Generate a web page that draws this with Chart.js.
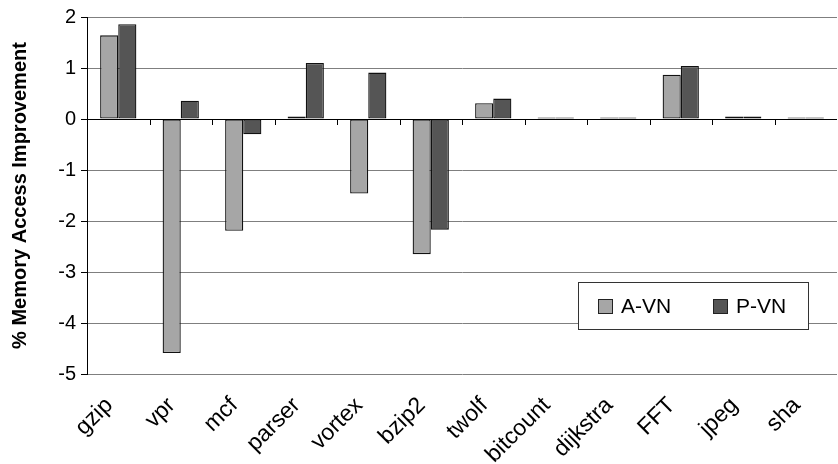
<!DOCTYPE html>
<html>
<head>
<meta charset="utf-8">
<script src="https://cdn.jsdelivr.net/npm/chart.js@4/dist/chart.umd.min.js"></script>
<style>
  html, body { margin: 0; padding: 0; background: #fff; }
  #wrap { width: 838px; height: 464px; }
</style>
</head>
<body>
<div id="wrap"><canvas id="memChart" width="838" height="464"></canvas></div>
<script>
// benchmarks along the x axis
const benchmarks = ["gzip", "vpr", "mcf", "parser", "vortex", "bzip2", "twolf", "bitcount", "dijkstra", "FFT", "jpeg", "sha"];
// % memory access improvement
const aVN = [1.64, -4.59, -2.19, 0.05, -1.46, -2.65, 0.31, 0.03, 0.03, 0.87, 0.05, 0.03];
const pVN = [1.86, 0.36, -0.30, 1.10, 0.91, -2.17, 0.40, 0.03, 0.03, 1.04, 0.05, 0.03];
const yMin = -5, yMax = 2, yStep = 1;

const FONT = "Arial, 'Liberation Sans', sans-serif";

// little tick marks hanging below the zero line, between categories
const zeroTicks = {
  id: "zeroTicks",
  afterDatasetsDraw(chart) {
    const ctx = chart.ctx;
    const x = chart.scales.x, y = chart.scales.y;
    const y0 = y.getPixelForValue(0);
    ctx.save();
    ctx.strokeStyle = "#000";
    ctx.lineWidth = 1;
    ctx.beginPath();
    ctx.moveTo(chart.chartArea.left, y0 + 0.5);
    ctx.lineTo(chart.chartArea.right, y0 + 0.5);
    for (let i = 1; i < benchmarks.length; i++) {
      const bx = Math.round((x.getPixelForValue(i - 1) + x.getPixelForValue(i)) / 2) + 0.5;
      ctx.moveTo(bx, y0);
      ctx.lineTo(bx, y0 + 6);
    }
    ctx.stroke();
    ctx.restore();
  }
};

// boxed legend inside the plot, lower right
const boxLegend = {
  id: "boxLegend",
  afterDraw(chart) {
    const ctx = chart.ctx;
    const bx = 578, by = 282, bw = 230, bh = 47;
    ctx.save();
    ctx.fillStyle = "#fff";
    ctx.fillRect(bx, by, bw, bh);
    ctx.strokeStyle = "#333";
    ctx.lineWidth = 1;
    ctx.strokeRect(bx + 0.5, by + 0.5, bw, bh);
    ctx.font = "21px " + FONT;
    ctx.textBaseline = "middle";
    const items = [[598, 0], [713, 1]];
    items.forEach(([sx, di]) => {
      const ds = chart.data.datasets[di];
      ctx.fillStyle = ds.backgroundColor;
      ctx.fillRect(sx, 299, 14, 14);
      ctx.strokeStyle = "#222";
      ctx.strokeRect(sx + 0.5, 299.5, 14, 14);
      ctx.fillStyle = "#000";
      ctx.fillText(ds.label, sx + 23, 307);
    });
    ctx.restore();
  }
};

new Chart(document.querySelector("#memChart"), {
  type: "bar",
  data: {
    labels: benchmarks,
    datasets: [
      {
        label: "A-VN",
        data: aVN,
        backgroundColor: "#a6a6a6",
        borderColor: "#111",
        borderWidth: 1.3,
        borderSkipped: false,
      },
      {
        label: "P-VN",
        data: pVN,
        backgroundColor: "#555555",
        borderColor: "#111",
        borderWidth: 1.3,
        borderSkipped: false,
      },
    ],
  },
  options: {
    responsive: false,
    animation: false,
    devicePixelRatio: 1,
    layout: { padding: { top: 13, right: 1, left: 0, bottom: 0 } },
    datasets: { bar: { categoryPercentage: 0.58, barPercentage: 1.0 } },
    plugins: {
      legend: { display: false },
      tooltip: { enabled: false },
    },
    scales: {
      x: {
        grid: { display: false },
        border: { display: false },
        ticks: {
          color: "#000",
          font: { family: FONT, size: 23 },
          minRotation: 45,
          maxRotation: 45,
          padding: 10,
          labelOffset: -9,
          autoSkip: false,
        },
        afterFit(scale) { scale.height = 90; },
      },
      y: {
        min: yMin,
        max: yMax,
        ticks: {
          stepSize: yStep,
          color: "#000",
          font: { family: FONT, size: 20 },
          padding: 5,
        },
        grid: {
          color: (c) => (c.tick && c.tick.value === 0 ? "#000" : "#7f7f7f"),
          tickColor: "#000",
          tickLength: 6,
          lineWidth: 1,
        },
        border: { display: true, color: "#000", width: 1 },
        title: {
          display: true,
          text: "% Memory Access Improvement",
          color: "#000",
          font: { family: FONT, size: 20, weight: "bold" },
          padding: { top: 8, bottom: 0 },
        },
        afterFit(scale) { scale.width = 87; },
      },
    },
  },
  plugins: [zeroTicks, boxLegend],
});
</script>
</body>
</html>
